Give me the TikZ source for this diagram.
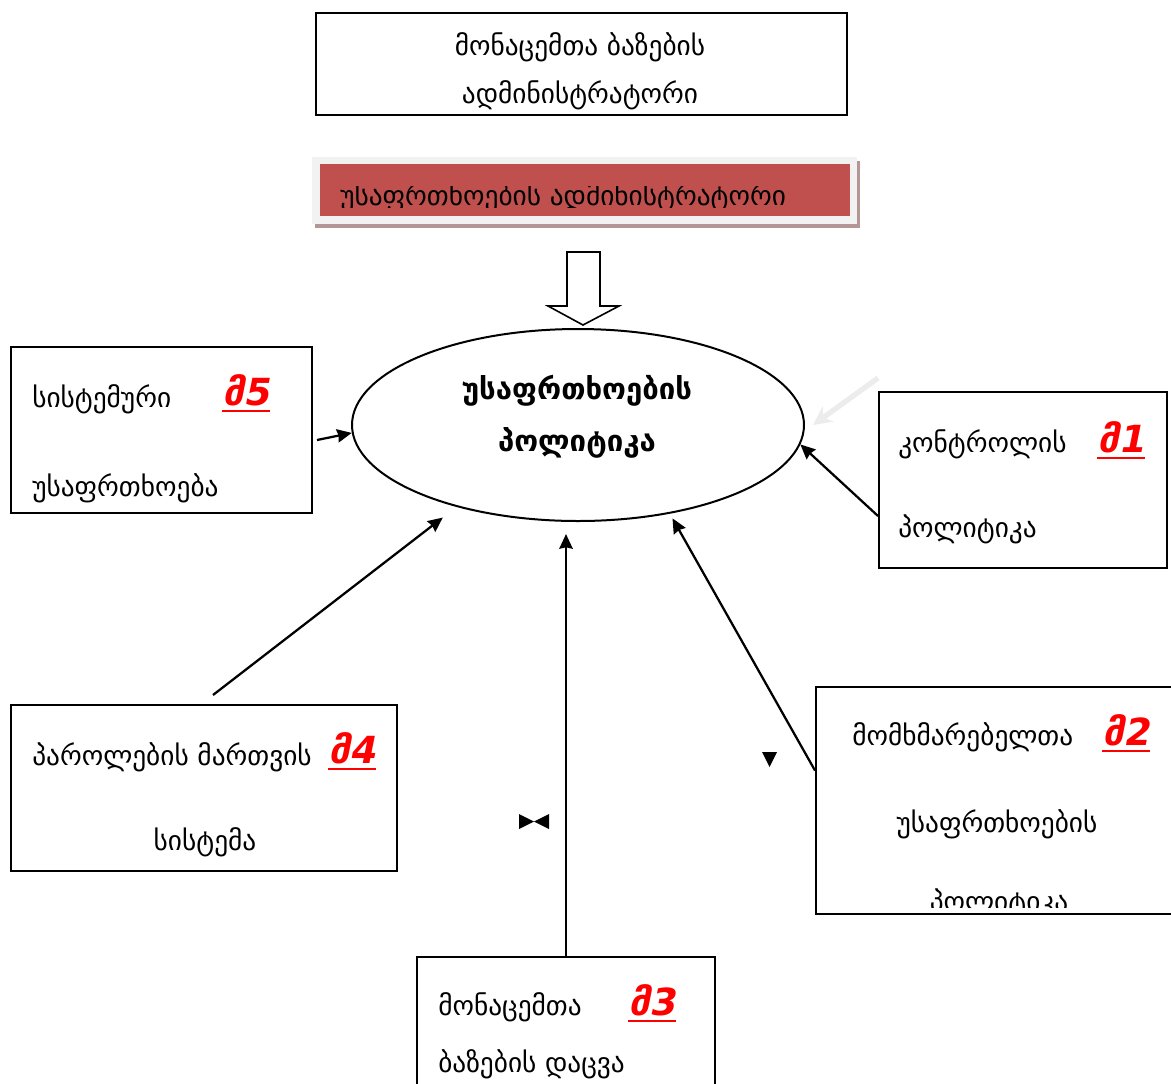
\documentclass[tikz,border=0pt]{standalone}
\usepackage{fontspec}
\setmainfont{DejaVu Sans}
\newfontfamily\tagfont[FakeSlant=0.2]{DejaVu Sans Bold}
\usetikzlibrary{shapes.geometric, arrows.meta}

\definecolor{secred}{RGB}{192,80,77}
\definecolor{framegray}{RGB}{242,242,242}
\definecolor{shadowbrown}{RGB}{180,150,150}
\definecolor{ghostgray}{RGB}{236,236,236}

\begin{document}
\begin{tikzpicture}[x=0.75pt, y=-0.75pt,
    box/.style={rectangle, draw, line width=1.5pt, inner sep=0pt},
    txt/.style={inner sep=0pt, font=\fontsize{20.5}{24}\selectfont},
    mtag/.style={inner sep=0pt, text=red, anchor=base west, font=\tagfont\fontsize{28}{32}\selectfont,
        append after command={([yshift=-4.5pt]\tikzlastnode.base west) edge[draw=red, line width=2.2pt] ([yshift=-4.5pt]\tikzlastnode.base east)}},
    conn/.style={line width=1.7pt, -{Stealth[length=11pt, width=10pt, inset=1pt]}}]
    \useasboundingbox (0,0) rectangle (1171,1083);

    % Draw nodes
    \node[box, minimum width=398.25pt, minimum height=76.5pt] (adm) at (581.5,64) {};
    \node[txt, anchor=base] (adma) at (580,55) {მონაცემთა ბაზების};
    \node[txt, anchor=base] (admb) at (580,103) {ადმინისტრატორი};

    \fill[shadowbrown] (315,161) rectangle (860,228);
    \fill[framegray] (312,157) rectangle (857,224);
    \node[rectangle, fill=secred, minimum width=397.5pt, minimum height=39pt] (secadm) at (585,190) {};
    \begin{scope}
        \clip (320,186) rectangle (850,207);
        \node[txt, anchor=base west] (secadma) at (340,205) {უსაფრთხოების ადმინისტრატორი};
    \end{scope}

    \draw[line width=1.2pt, fill=white] (567,252) -- (600,252) -- (600,306) -- (619,306)
        -- (583,325) -- (548,306) -- (567,306) -- cycle;

    \node[ellipse, draw, line width=1.5pt, inner sep=0pt, minimum width=339pt, minimum height=144pt] (pol) at (578,425) {};
    \node[txt, anchor=base, font=\fontsize{22}{26}\selectfont\bfseries] (pola) at (577,399) {უსაფრთხოების};
    \node[txt, anchor=base, font=\fontsize{22}{26}\selectfont\bfseries] (polb) at (577,451) {პოლიტიკა};

    \node[box, minimum width=225.75pt, minimum height=124.5pt] (m5) at (161.5,430) {};
    \node[txt, anchor=base west] (m5a) at (32,407) {სისტემური};
    \node[txt, anchor=base west] (m5b) at (32,496) {უსაფრთხოება};
    \node[mtag] (m5t) at (222,405) {მ5};

    \node[box, minimum width=216pt, minimum height=132pt] (m1) at (1023,480) {};
    \node[txt, anchor=base west] (m1a) at (898,452) {კონტროლის};
    \node[txt, anchor=base west] (m1b) at (898,537) {პოლიტიკა};
    \node[mtag] (m1t) at (1097,452) {მ1};

    \node[box, minimum width=289.5pt, minimum height=124.5pt] (m4) at (204,788) {};
    \node[txt, anchor=base west] (m4a) at (32,765) {პაროლების მართვის};
    \node[txt, anchor=base] (m4b) at (205,850) {სისტემა};
    \node[mtag] (m4t) at (328,763) {მ4};

    \node[box, minimum width=223.5pt, minimum height=114.75pt] (m3) at (566,1033.5) {};
    \node[txt, anchor=base west] (m3a) at (438,1015) {მონაცემთა};
    \node[txt, anchor=base west] (m3b) at (438,1072) {ბაზების დაცვა};
    \node[mtag] (m3t) at (628,1015) {მ3};

    \node[box, minimum width=267.75pt, minimum height=170.25pt] (m2) at (994.5,800.5) {};
    \node[txt, anchor=base west] (m2a) at (852,745) {მომხმარებელთა};
    \node[txt, anchor=base] (m2b) at (997,832) {უსაფრთხოების};
    \begin{scope}
        \clip (820,860) rectangle (1170,907);
        \node[txt, anchor=base] (m2c) at (999,911) {პოლიტიკა};
    \end{scope}
    \node[mtag] (m2t) at (1102,745) {მ2};

    % Draw connections
    \draw[conn] ([shift={(4,10)}]m5.east) -- (pol.182);
    \draw[conn] ([shift={(0,36)}]m1.west) -- (pol.355);
    \coordinate (ghost) at (878,378);
    \draw[line width=4pt, ghostgray, -{Stealth[length=14pt, width=14pt]}] (ghost) -- ([xshift=6pt]pol.east);
    \draw[conn, shorten >=13pt] ([shift={(9,-9)}]m4.north) -- (pol.214);
    \draw[conn, shorten >=9pt] (m3.north) -- (m3.north |- pol.south);
    \draw[conn, shorten >=4pt] ([shift={(0,-30)}]m2.west) -- (pol.316);

    % Stray marks
    \fill (762,752) -- (777,752) -- (769.5,767) -- cycle;
    \fill (519,814) -- (534,821.5) -- (549,814) -- (549,829) -- (534,821.5) -- (519,829) -- cycle;
\end{tikzpicture}
\end{document}
